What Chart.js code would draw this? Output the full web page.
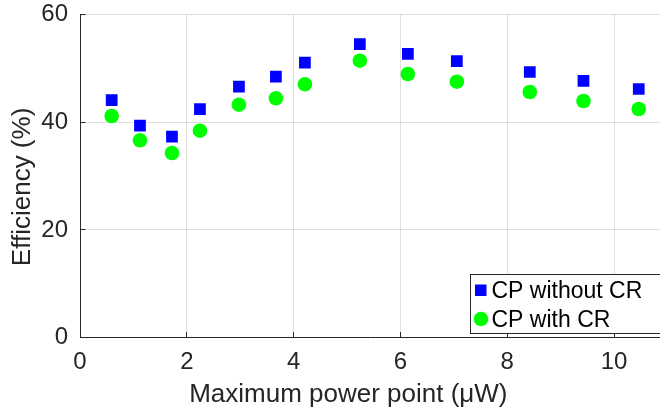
<!DOCTYPE html>
<html><head><meta charset="utf-8">
<style>html,body{margin:0;padding:0;background:#fff;overflow:hidden}</style>
<script src="https://cdn.jsdelivr.net/npm/chart.js@4/dist/chart.umd.min.js"></script>
</head><body>
<canvas id="c" width="660" height="412" style="display:block;width:660px;height:412px"></canvas>
<script>
const xValues = [0.593, 1.123, 1.722, 2.246, 2.976, 3.668, 4.211, 5.240, 6.139, 7.056, 8.422, 9.427, 10.462];
const cpWithoutCR = [44.14, 39.37, 37.32, 42.47, 46.62, 48.48, 51.08, 54.55, 52.70, 51.39, 49.35, 47.68, 46.19];
const cpWithCR = [41.17, 36.65, 34.29, 38.44, 43.27, 44.46, 47.06, 51.45, 48.98, 47.55, 45.63, 43.96, 42.47];
const seriesLabels = ['CP without CR', 'CP with CR'];
const xTicks = [0, 2, 4, 6, 8, 10];
const yTicks = [0, 20, 40, 60];
const xTitle = 'Maximum power point (\u03BCW)';
const yTitle = 'Efficiency (%)';

const FONT = "'Liberation Sans', Arial, Helvetica, sans-serif";
const AXIS = '#262626';
const GRID = 'rgba(38,38,38,0.15)';

const innerTicks = {
  id: 'innerTicks',
  afterDatasetsDraw(chart) {
    const {ctx, chartArea, scales: {x, y}} = chart;
    ctx.save();
    ctx.strokeStyle = AXIS; ctx.lineWidth = 1;
    ctx.beginPath();
    x.ticks.forEach(t => {
      const px = Math.round(x.getPixelForValue(t.value) - 0.5) + 0.5;
      ctx.moveTo(px, chartArea.bottom); ctx.lineTo(px, chartArea.bottom - 5.5);
    });
    y.ticks.forEach(t => {
      const py = Math.round(y.getPixelForValue(t.value) - 0.5) + 0.5;
      ctx.moveTo(chartArea.left, py); ctx.lineTo(chartArea.left + 5.5, py);
    });
    ctx.stroke();
    ctx.restore();
  }
};

const boxLegend = {
  id: 'boxLegend',
  afterDraw(chart) {
    const {ctx, chartArea} = chart;
    const left = chartArea.right - 189.5, top = chartArea.bottom - 63, h = 59;
    ctx.save();
    ctx.fillStyle = '#fff';
    ctx.fillRect(left, top, 220, h);
    ctx.strokeStyle = AXIS; ctx.lineWidth = 1;
    ctx.strokeRect(left, top, 220, h);
    const ds = chart.data.datasets;
    ctx.fillStyle = ds[0].backgroundColor;
    ctx.fillRect(left + 4.5, top + 10, 11.5, 11.5);
    ctx.fillStyle = ds[1].backgroundColor;
    ctx.beginPath(); ctx.arc(left + 10.5, top + 44.5, 7.3, 0, Math.PI * 2); ctx.fill();
    ctx.fillStyle = '#000';
    ctx.font = '23px ' + FONT;
    ctx.textBaseline = 'alphabetic';
    ctx.textAlign = 'left';
    ctx.fillText(ds[0].label, left + 21, top + 23.3);
    ctx.fillText(ds[1].label, left + 21, top + 52.4);
    ctx.restore();
  }
};

new Chart(document.getElementById('c'), {
  type: 'scatter',
  data: {
    datasets: [
      {
        label: seriesLabels[0],
        data: xValues.map((x, i) => ({x, y: cpWithoutCR[i]})),
        backgroundColor: '#0000ff', borderColor: '#0000ff', borderWidth: 0,
        pointStyle: 'rect', pointRadius: 8.3, pointHoverRadius: 8.3
      },
      {
        label: seriesLabels[1],
        data: xValues.map((x, i) => ({x, y: cpWithCR[i]})),
        backgroundColor: '#00ff00', borderColor: '#00ff00', borderWidth: 0,
        pointStyle: 'circle', pointRadius: 7.3, pointHoverRadius: 7.3
      }
    ]
  },
  options: {
    responsive: false,
    animation: false,
    events: [],
    devicePixelRatio: 1,
    layout: {autoPadding: false, padding: {top: 14.7, right: 0, bottom: 0, left: 0}},
    plugins: {legend: {display: false}, tooltip: {enabled: false}},
    scales: {
      x: {
        type: 'linear', min: 0, max: 10.86,
        afterBuildTicks: s => { s.ticks = xTicks.map(v => ({value: v})); },
        afterFit: s => { s.height = 74.5; s.paddingLeft = 0; s.paddingRight = 0; },
        grid: {color: GRID, lineWidth: 1, drawTicks: false},
        border: {display: true, color: AXIS, width: 1},
        ticks: {color: AXIS, font: {family: FONT, size: 24}, padding: 10, maxRotation: 0},
        title: {display: true, text: xTitle + '      ', color: AXIS, font: {family: FONT, size: 26}, padding: {top: 0, bottom: 2}}
      },
      y: {
        type: 'linear', min: 0, max: 60,
        afterBuildTicks: s => { s.ticks = yTicks.map(v => ({value: v})); },
        afterFit: s => { s.width = 80; s.paddingTop = 0; s.paddingBottom = 0; },
        grid: {color: GRID, lineWidth: 1, drawTicks: false},
        border: {display: true, color: AXIS, width: 1},
        ticks: {color: AXIS, font: {family: FONT, size: 24}, padding: 12},
        title: {display: true, text: yTitle + '   ', color: AXIS, font: {family: FONT, size: 26}, padding: {top: 7, bottom: 0}}
      }
    }
  },
  plugins: [innerTicks, boxLegend]
});
</script>
</body></html>
